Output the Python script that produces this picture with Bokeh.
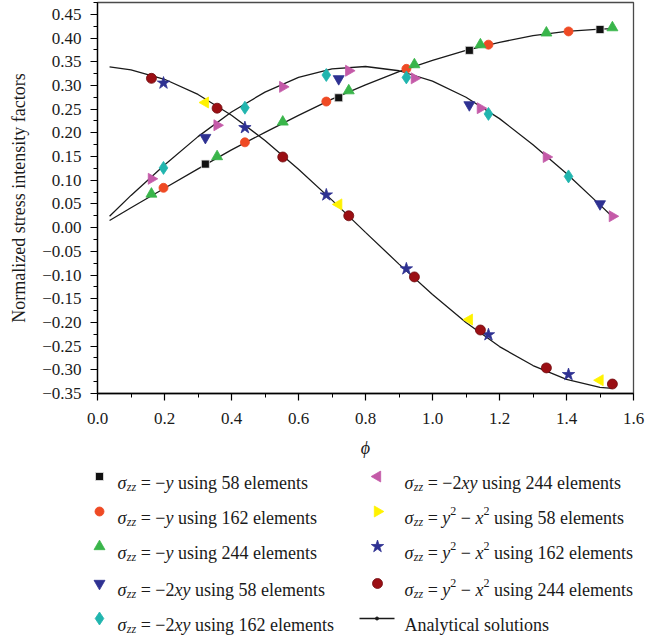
from bokeh.plotting import figure
from bokeh.models import Range1d, FixedTicker, CustomJSTickFormatter, ColumnDataSource
from bokeh.layouts import column
from bokeh.embed import file_html
from bokeh.resources import INLINE
from bokeh.core.properties import value

# ---------------- data ----------------
phi_58 = [0.322, 0.720, 1.110, 1.500]
phi_162 = [0.197, 0.440, 0.683, 0.922, 1.167, 1.406]
phi_244 = [0.161, 0.357, 0.553, 0.750, 0.946, 1.143, 1.340, 1.537]

neg_y_58 = [0.134, 0.274, 0.374, 0.418]
neg_y_162 = [0.084, 0.180, 0.266, 0.335, 0.386, 0.414]
neg_y_244 = [0.071, 0.150, 0.223, 0.289, 0.344, 0.386, 0.411, 0.422]

neg_2xy_58 = [0.190, 0.314, 0.259, 0.050]
neg_2xy_162 = [0.126, 0.253, 0.322, 0.317, 0.240, 0.108]
neg_2xy_244 = [0.103, 0.216, 0.297, 0.331, 0.315, 0.252, 0.149, 0.024]

y2x2_58 = [0.264, 0.049, -0.194, -0.322]
y2x2_162 = [0.305, 0.211, 0.069, -0.087, -0.226, -0.310]
y2x2_244 = [0.315, 0.252, 0.149, 0.025, -0.104, -0.216, -0.296, -0.330]

# analytical curves
phi_curve = [0.036, 0.1, 0.2, 0.3, 0.4, 0.5, 0.6, 0.7, 0.8, 0.9, 1.0,
             1.1, 1.2, 1.3, 1.4, 1.5, 1.537]
curve_neg_y = [0.015, 0.042, 0.083, 0.124, 0.164, 0.201, 0.237, 0.271, 0.301,
               0.329, 0.353, 0.374, 0.391, 0.405, 0.414, 0.419, 0.420]
curve_neg_2xy = [0.024, 0.068, 0.132, 0.192, 0.244, 0.286, 0.317, 0.335, 0.340,
                 0.331, 0.309, 0.275, 0.230, 0.175, 0.114, 0.048, 0.023]
curve_y2x2 = [0.339, 0.333, 0.313, 0.281, 0.237, 0.184, 0.123, 0.058, -0.010,
              -0.077, -0.141, -0.200, -0.251, -0.291, -0.320, -0.337, -0.339]

x_ticks = [0.0, 0.2, 0.4, 0.6, 0.8, 1.0, 1.2, 1.4, 1.6]
y_ticks = [-0.35, -0.30, -0.25, -0.20, -0.15, -0.10, -0.05, 0.00,
           0.05, 0.10, 0.15, 0.20, 0.25, 0.30, 0.35, 0.40, 0.45]

x_title = "ϕ"
y_title = "Normalized stress intensity factors"

# ---------------- styles ----------------
FONT = "Liberation Serif"
BLACK = "#111111"
RED = "#EF4A24"
GREEN = "#39B54A"
NAVY = "#2E3192"
CYAN = "#21B5AE"
MAGENTA = "#C45AA8"
YELLOW = "#FFF200"
DARKRED = "#9B0F14"

series = [
    # (phi, values, marker, fill, line, size, label-kind, elements)
    (phi_58, neg_y_58, "square", BLACK, "#e6e6e6", 8, "y", "58"),
    (phi_162, neg_y_162, "circle", RED, RED, 9, "y", "162"),
    (phi_244, neg_y_244, "triangle", GREEN, GREEN, 11, "y", "244"),
    (phi_58, neg_2xy_58, "inverted_triangle", NAVY, NAVY, 11, "xy", "58"),
    (phi_162, neg_2xy_162, "diamond", CYAN, CYAN, 13, "xy", "162"),
    (phi_244, neg_2xy_244, "triangle", MAGENTA, MAGENTA, 11, "xy", "244"),
    (phi_58, y2x2_58, "triangle", YELLOW, YELLOW, 11, "yx", "58"),
    (phi_162, y2x2_162, "star", NAVY, NAVY, 13, "yx", "162"),
    (phi_244, y2x2_244, "circle", DARKRED, "#700a0e", 10, "yx", "244"),
]
angles = [0, 0, 0, 0, 0, -1.5708, 1.5708, 0, 0]

MAIN_H = 470
# ---------------- main plot ----------------
p = figure(width=646, height=MAIN_H, output_backend="svg", toolbar_location=None,
           title=None,
           x_range=Range1d(0, 1.6), y_range=Range1d(-0.35, 0.475),
           min_border_left=97, min_border_right=13, min_border_top=2,
           min_border_bottom=MAIN_H - 393)
p.frame_align = False
p.grid.visible = False
p.outline_line_color = "#4a4a4a"
p.outline_line_width = 1.3
p.background_fill_color = "white"
p.border_fill_color = "white"

for yy in (curve_neg_y, curve_neg_2xy, curve_y2x2):
    p.line(phi_curve, yy, line_color="#1a1a1a", line_width=1.3)

for (xs, ys, mk, fc, lc, sz, _k, _n), ang in zip(series, angles):
    p.scatter(xs, ys, marker=mk, size=sz, fill_color=fc, line_color=lc,
              line_width=0.8, angle=ang)

for ax in (p.xaxis[0], p.yaxis[0]):
    ax.axis_line_color = "black"
    ax.axis_line_width = 1.3
    ax.major_tick_line_color = "black"
    ax.minor_tick_line_color = "black"
    ax.major_tick_line_width = 1.2
    ax.minor_tick_line_width = 1.0
    ax.major_tick_in = 0
    ax.major_tick_out = 7
    ax.minor_tick_in = 0
    ax.minor_tick_out = 4
    ax.major_label_text_font = FONT
    ax.major_label_text_font_size = "17px"
    ax.major_label_text_color = "#1a1a1a"
    ax.axis_label_text_font = FONT
    ax.axis_label_text_font_size = "18px"
    ax.axis_label_text_color = "#1a1a1a"

p.xaxis.ticker = FixedTicker(ticks=x_ticks,
                             minor_ticks=[0.1, 0.3, 0.5, 0.7, 0.9, 1.1, 1.3, 1.5])
p.yaxis.ticker = FixedTicker(ticks=y_ticks,
                             minor_ticks=[round(-0.325 + 0.05 * i, 3) for i in range(17)])
p.xaxis.formatter = CustomJSTickFormatter(code="return tick.toFixed(1);")
p.yaxis.formatter = CustomJSTickFormatter(
    code="return (tick < -1e-9 ? '\u2212' : '') + Math.abs(tick).toFixed(2);")
p.xaxis.major_label_standoff = 12
p.yaxis.major_label_standoff = 9
p.xaxis.axis_label = x_title
p.xaxis.axis_label_text_font_style = "italic"
p.xaxis.axis_label_standoff = 11
p.yaxis.axis_label = y_title
p.yaxis.axis_label_text_font_style = "normal"
p.yaxis.axis_label_standoff = 10

# ---------------- legend (drawn as its own panel) ----------------
LEG_H = 637 - MAIN_H
leg = figure(width=646, height=LEG_H, output_backend="svg", toolbar_location=None,
             title=None,
             x_range=Range1d(0, 646), y_range=Range1d(LEG_H, 0),
             x_axis_type=None, y_axis_type=None, min_border=0,
             outline_line_color=None)
leg.frame_align = False
leg.background_fill_color = "white"
leg.border_fill_color = "white"

NB = "\u00a0"
REG = {' ': 250, NB: 250, '=': 564, '−': 564, 'u': 500, 's': 389, 'i': 278,
       'n': 500, 'g': 500, 'e': 444, 'l': 278, 'm': 778, 't': 278}
ITA = {'σ': 520, 'z': 389, 'y': 444, 'x': 444}
for d in "0123456789":
    REG[d] = 500


def width(txt, italic, size):
    tab = ITA if italic else REG
    return sum(tab.get(c, 500) for c in txt) / 1000.0 * size


FS = 18.0
SUB = 12.0
rows_abs = [476, 511, 546, 583, 618]
rows = [r - MAIN_H for r in rows_abs]
cols_marker = [99, 377]
cols_text = [117, 404]

seg = dict(x=[], y=[], text=[], style=[], size=[])
mk = dict(x=[], y=[], marker=[], fill=[], line=[], size=[], angle=[])


def add_label(x0, yrow, kind, n):
    base = yrow + 6
    parts = [("σ", True, FS, 0), ("zz", True, SUB, 4)]
    if kind == "y":
        parts += [(" = −", False, FS, 0), ("y", True, FS, 0)]
    elif kind == "xy":
        parts += [(" = −2", False, FS, 0), ("xy", True, FS, 0)]
    else:
        parts += [(" = ", False, FS, 0), ("y", True, FS, 0), ("2", False, SUB, -7),
                  (" − ", False, FS, 0), ("x", True, FS, 0), ("2", False, SUB, -7)]
    parts += [(" using %s elements" % n, False, FS, 0)]
    x = x0
    for txt, it, sz, dy in parts:
        t = txt.replace(" ", NB)
        seg["x"].append(x)
        seg["y"].append(base + dy)
        seg["text"].append(t)
        seg["style"].append("italic" if it else "normal")
        seg["size"].append("%dpx" % sz)
        x += width(t, it, sz)


for i, ((xs, ys, m, fc, lc, sz, kind, n), ang) in enumerate(zip(series, angles)):
    c, r = divmod(i, 5)
    mk["x"].append(cols_marker[c])
    mk["y"].append(rows[r])
    mk["marker"].append(m)
    mk["fill"].append(fc)
    mk["line"].append(lc)
    mk["size"].append(sz)
    mk["angle"].append(-ang)
    add_label(cols_text[c], rows[r], kind, n)

leg.scatter("x", "y", marker="marker", size="size", fill_color="fill",
            line_color="line", angle="angle", line_width=0.8,
            source=ColumnDataSource(mk))
# analytical solutions entry
leg.line([359, 394], [rows[4], rows[4]], line_color="#1a1a1a", line_width=1.5)
leg.scatter([376.5], [rows[4]], marker="circle", size=3, fill_color="#1a1a1a",
            line_color="#1a1a1a")
seg["x"].append(cols_text[1])
seg["y"].append(rows[4] + 6)
seg["text"].append("Analytical solutions")
seg["style"].append("normal")
seg["size"].append("%dpx" % FS)

leg.text("x", "y", text="text", text_font=value(FONT), text_font_style="style",
         text_font_size="size", text_color="#1a1a1a", text_align="left",
         text_baseline="alphabetic", source=ColumnDataSource(seg))

layout = column(p, leg, spacing=0)
open("out.html", "w").write(file_html(layout, INLINE))
